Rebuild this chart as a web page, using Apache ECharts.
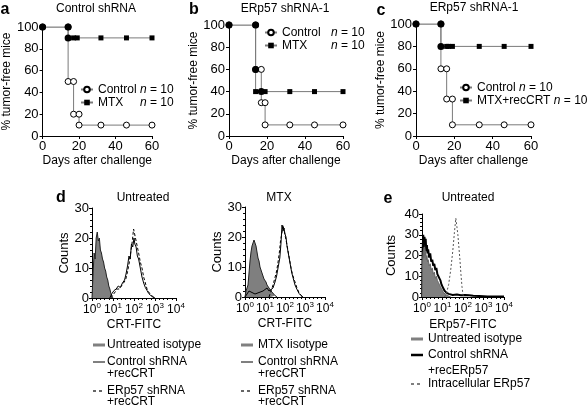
<!DOCTYPE html>
<html><head><meta charset="utf-8">
<script src="https://cdn.jsdelivr.net/npm/echarts@6/dist/echarts.min.js"></script>
<style>html,body{margin:0;padding:0;background:#fff}#c{width:588px;height:410px}</style>
</head><body><div id="c"></div>
<script>
const FONT = 'Liberation Sans, Arial, Helvetica, sans-serif';

// ---- Panel a: Control shRNA (day, % tumor-free) ----
const aControl = [[0,100],[14,100],[14,50],[17,50],[17,20],[20,20],[20,10],[32,10],[46,10],[60,10]];
const aMTX     = [[0,100],[14,100],[14,90],[17,90],[19,90],[32,90],[46,90],[60,90]];
const aMTXMarks = ['circle','circle','circle','rect','rect','rect','rect','rect'];
// ---- Panel b: ERp57 shRNA-1 ----
const bControl = [[0,100],[14,100],[14,60],[17,60],[17,30],[19,30],[19,10],[32,10],[45,10],[60,10]];
const bMTX     = [[0,100],[14,100],[14,60],[14,40],[17,40],[19,40],[32,40],[45,40],[60,40]];
const bMTXMarks = ['circle','circle','circle','rect','circle','rect','rect','rect','rect'];
// ---- Panel c: ERp57 shRNA-1 ----
const cControl = [[0,100],[13,100],[13,60],[16,60],[16,33],[19,33],[19,10],[33,10],[46,10],[60,10]];
const cMTXrec  = [[0,100],[13,100],[13,80],[16,80],[17,80],[19,80],[33,80],[46,80],[60,80]];
const cMTXMarks = ['circle','circle','circle','rect','rect','rect','rect','rect','rect'];

// ---- Histograms: [log10 fluorescence, counts] ----
const dUntIso = [[0,0],[0.05,8],[0.1,15],[0.15,13],[0.2,20],[0.25,22],[0.3,19],[0.35,20],[0.4,16],[0.45,15],[0.5,13],[0.55,12],[0.6,10],[0.65,9],[0.7,7],[0.75,6],[0.8,4],[0.85,3],[0.9,1.5],[0.95,0.5],[1.0,0]];
const dUntCtrl = [[0.85,0],[0.95,1.5],[1.05,2.5],[1.15,3],[1.25,4],[1.35,3.5],[1.45,5],[1.55,6],[1.62,8],[1.7,11],[1.76,14],[1.82,13],[1.88,18],[1.94,17],[2.0,20],[2.04,18],[2.1,17],[2.16,14],[2.22,13],[2.3,10],[2.38,7],[2.46,5],[2.54,3.5],[2.62,2.5],[2.7,1.5],[2.8,0.8],[2.9,0.3],[3.0,0]];
const dUntERp = [[0.9,0],[1.0,1],[1.1,2],[1.2,3],[1.3,3],[1.4,4],[1.5,5],[1.6,6],[1.7,9],[1.78,12],[1.86,16],[1.92,19],[1.98,23],[2.04,21],[2.1,19],[2.16,17],[2.22,15],[2.3,12],[2.38,10],[2.46,7],[2.54,5],[2.62,3],[2.7,2],[2.8,1],[2.9,0.5],[3.0,0]];
const dMtxIso = [[0,0],[0.05,2],[0.1,3],[0.15,4],[0.2,8],[0.25,12],[0.3,15],[0.35,17],[0.4,18],[0.45,19],[0.5,18],[0.55,17],[0.6,15],[0.65,13],[0.7,12],[0.75,10],[0.8,9],[0.85,8],[0.9,7],[0.95,6],[1.0,6],[1.05,5],[1.1,4],[1.15,4],[1.2,3],[1.3,2],[1.4,1.5],[1.5,0.5],[1.6,0]];
const dMtxCtrl = [[0,0],[0.1,1],[0.2,2],[0.3,1.5],[0.5,1],[0.7,1.5],[0.9,2],[1.0,2.5],[1.1,3],[1.2,2],[1.3,2.5],[1.4,3],[1.5,5],[1.58,7],[1.66,10],[1.74,13],[1.8,18],[1.85,24],[1.9,22],[1.95,23],[2.0,21],[2.05,20],[2.1,17],[2.18,14],[2.26,11],[2.34,8],[2.42,6],[2.5,4],[2.6,2.5],[2.7,1.2],[2.8,0.5],[2.9,0]];
const dMtxERp = [[1.2,0],[1.3,2],[1.4,4],[1.48,6],[1.56,8],[1.64,11],[1.72,15],[1.78,19],[1.84,21],[1.9,24],[1.96,22],[2.02,20],[2.08,18],[2.16,15],[2.24,12],[2.32,9],[2.4,7],[2.5,5],[2.6,3],[2.7,1.5],[2.8,0.5],[2.9,0]];
const eIso = [[0,0],[0.03,18],[0.06,22],[0.09,19],[0.12,24],[0.15,20],[0.18,22],[0.21,18],[0.24,20],[0.27,17],[0.3,18],[0.35,15],[0.4,16],[0.45,13],[0.5,14],[0.55,11],[0.6,12],[0.65,9],[0.7,10],[0.75,8],[0.8,7],[0.85,6],[0.9,5],[0.95,4],[1.0,3],[1.05,2],[1.1,1.5],[1.2,1],[1.3,0.5],[1.4,0]];
const eCtrl = [[0,0],[0.03,22],[0.06,30],[0.09,24],[0.12,29],[0.15,26],[0.18,28],[0.21,22],[0.24,25],[0.27,21],[0.3,23],[0.35,19],[0.4,21],[0.45,17],[0.5,18],[0.55,15],[0.6,16],[0.65,13],[0.7,14],[0.75,11],[0.8,10],[0.85,9],[0.9,8],[0.95,6],[1.0,5],[1.05,4],[1.1,3],[1.15,2.5],[1.2,2],[1.3,1.5],[1.5,1],[1.7,1.2],[1.9,0.8],[2.1,1],[2.3,0.8],[2.5,0.6],[2.8,0.5],[3.2,0.3],[3.6,0.2],[4.0,0.2]];
const eIntra = [[1.1,0],[1.2,2],[1.3,6],[1.4,13],[1.5,22],[1.58,31],[1.65,38],[1.7,34],[1.75,30],[1.8,24],[1.85,18],[1.9,11],[1.95,5],[2.0,1],[2.05,0]];

const txt = {color:'#000', fontFamily: FONT};

function kmX(gi){
  return {type:'value', gridIndex:gi, min:0, max:60, interval:20,
    name:'Days after challenge', nameLocation:'middle', nameGap:19,
    nameTextStyle:Object.assign({fontSize:12}, txt),
    axisLine:{show:true, onZero:false, lineStyle:{color:'#000', width:1}},
    axisTick:{show:true, length:3, lineStyle:{color:'#000'}},
    axisLabel:Object.assign({fontSize:13, margin:4}, txt),
    splitLine:{show:false}};
}
function kmY(gi){
  return {type:'value', gridIndex:gi, min:0, max:100, interval:20,
    name:'% tumor-free mice', nameLocation:'middle', nameGap:24,
    nameTextStyle:Object.assign({fontSize:12}, txt),
    axisLine:{show:true, onZero:false, lineStyle:{color:'#000', width:1}},
    axisTick:{show:true, length:3, lineStyle:{color:'#000'}},
    axisLabel:Object.assign({fontSize:13, margin:4}, txt),
    splitLine:{show:false}};
}
function hX(gi, name, gap){
  return {type:'value', gridIndex:gi, min:0, max:4, interval:1,
    name:name, nameLocation:'middle', nameGap:gap,
    nameTextStyle:Object.assign({fontSize:12}, txt),
    axisLine:{show:true, onZero:false, lineStyle:{color:'#000', width:1}},
    axisTick:{show:true, length:3, lineStyle:{color:'#000'}},
    minorTick:{show:true, splitNumber:5, length:2, lineStyle:{color:'#000'}},
    axisLabel:{margin:4, interval:0, showMinLabel:true, showMaxLabel:true, hideOverlap:false,
      formatter: v => '{b|10}{s|' + v + '}',
      rich:{b:Object.assign({fontSize:12, lineHeight:14, verticalAlign:'bottom'}, txt),
            s:Object.assign({fontSize:8, lineHeight:14, verticalAlign:'top'}, txt)}},
    splitLine:{show:false}};
}
function hY(gi, max, gap){
  return {type:'value', gridIndex:gi, min:0, max:max, interval:10,
    name:'Counts', nameLocation:'middle', nameGap:gap,
    nameTextStyle:Object.assign({fontSize:13}, txt),
    axisLine:{show:true, onZero:false, lineStyle:{color:'#000', width:1}},
    axisTick:{show:true, length:3, lineStyle:{color:'#000'}},
    minorTick:{show:true, splitNumber:5, length:2, lineStyle:{color:'#000'}},
    axisLabel:Object.assign({fontSize:13, margin:3}, txt),
    splitLine:{show:false}};
}

function ctrlSeries(name, data, gi){
  return {name, type:'line', xAxisIndex:gi, yAxisIndex:gi, data, z:2,
    symbol:'circle', symbolSize:6, showAllSymbol:true, animation:false,
    itemStyle:{color:'#fff', borderColor:'#000', borderWidth:1},
    lineStyle:{color:'#7a7a7a', width:1}};
}
function mtxSeries(name, data, marks, gi){
  return {name, type:'line', xAxisIndex:gi, yAxisIndex:gi, z:3,
    data: data.map((p,i) => ({value:p, symbol:marks[i], symbolSize: marks[i]==='circle' ? 7 : 5})),
    symbol:'rect', symbolSize:5, showAllSymbol:true, animation:false,
    itemStyle:{color:'#000', borderColor:'#000', borderWidth:0},
    lineStyle:{color:'#7a7a7a', width:1}};
}
function hSeries(name, data, gi, opts){
  return Object.assign({name, type:'line', xAxisIndex:gi, yAxisIndex:gi, data,
    showSymbol:false, symbol:'none', animation:false}, opts);
}

const grids = [
  {left:39, top:27, width:113, height:109},
  {left:229, top:25, width:114, height:111},
  {left:416, top:24, width:115, height:112},
  {left:92, top:208, width:84, height:90},
  {left:245, top:207, width:80, height:90},
  {left:422, top:214, width:82, height:83}
];

function kmLegend(names, left, top, fmt, tWidth){
  const rich = {t:Object.assign({fontSize:12}, txt), i:Object.assign({fontSize:12, fontStyle:'italic'}, txt),
                n:Object.assign({fontSize:12}, txt)};
  if (tWidth) rich.t.width = tWidth;
  return {data:names, left, top, orient:'vertical', itemWidth:12, itemHeight:7, itemGap:0,
    selectedMode:false, padding:0,
    textStyle:Object.assign({fontSize:12, lineHeight:13, rich}, txt),
    formatter: fmt};
}

const gEls = [];
function legLine(x, y, style){ gEls.push({type:'line', shape:{x1:x, y1:y, x2:x+12, y2:y}, style}); }
function textEl(x, y, s, font, align){
  gEls.push({type:'text', x, y, style:{text:s, font:font, fill:'#000',
    align:align, verticalAlign:'middle', textAlign:align, textVerticalAlign:'middle'}});
}
function legText(x, y, s){ textEl(x, y, s, '12px '+FONT, 'left'); }
function label(x, y, s, font){ textEl(x, y, s, font, 'center'); }

// panel letters & titles
label(5, 10, 'a', 'bold 16px '+FONT);
label(194, 10, 'b', 'bold 16px '+FONT);
label(381, 11, 'c', 'bold 16px '+FONT);
label(61, 198, 'd', 'bold 16px '+FONT);
label(388, 199, 'e', 'bold 16px '+FONT);
label(96, 9, 'Control shRNA', '12px '+FONT);
label(285, 9, 'ERp57 shRNA-1', '12px '+FONT);
label(474, 8, 'ERp57 shRNA-1', '12px '+FONT);
label(143, 198, 'Untreated', '12px '+FONT);
label(279, 198, 'MTX', '12px '+FONT);
label(468, 198, 'Untreated', '12px '+FONT);

// d untreated legend
const thickGray = {stroke:'#808080', lineWidth:3};
const solidBlk = {stroke:'#000', lineWidth:1};
const dashBlk = {stroke:'#000', lineWidth:1.2, lineDash:[3,3]};
legLine(93, 345, thickGray); legText(107, 345, 'Untreated isotype');
legLine(93, 362, solidBlk); legText(107, 362, 'Control shRNA'); legText(107, 374, '+recCRT');
legLine(93, 391, dashBlk); legText(107, 391, 'ERp57 shRNA'); legText(107, 402, '+recCRT');
// d MTX legend
legLine(241, 345, thickGray); legText(258, 345, 'MTX Iisotype');
legLine(241, 362, solidBlk); legText(258, 362, 'Control shRNA'); legText(258, 374, '+recCRT');
legLine(241, 391, dashBlk); legText(258, 391, 'ERp57 shRNA'); legText(258, 402, '+recCRT');
// e legend
legLine(411, 339, thickGray); legText(428, 339, 'Untreated isotype');
legLine(411, 355, {stroke:'#000', lineWidth:2.5}); legText(428, 355, 'Control shRNA'); legText(428, 371, '+recERp57');
legLine(411, 384, {stroke:'#000', lineWidth:1, lineDash:[3,3]}); legText(428, 384, 'Intracellular ERp57');

const option = {
  backgroundColor:'#fff',
  animation:false,
  textStyle:{fontFamily:FONT},
  grid: grids,
  xAxis:[kmX(0), kmX(1), kmX(2), hX(3,'CRT-FITC',21), hX(4,'CRT-FITC',21), hX(5,'ERp57-FITC',22)],
  yAxis:[kmY(0), kmY(1), kmY(2), hY(3,30,20), hY(4,30,21), hY(5,40,24)],
  legend:[
    kmLegend(['Control','MTX'], 80, 83, n => '{t|' + n + '}{i|n} = 10', 42),
    kmLegend(['Control','MTX'], 264, 26, n => '{t|' + n + '}{i|n} = 10', 49),
    kmLegend(['Control','MTX+recCRT'], 459, 81, n => '{n|' + n + '} {i|n} = 10')
  ],
  series:[
    ctrlSeries('Control', aControl, 0), mtxSeries('MTX', aMTX, aMTXMarks, 0),
    ctrlSeries('Control', bControl, 1), mtxSeries('MTX', bMTX, bMTXMarks, 1),
    ctrlSeries('Control', cControl, 2), mtxSeries('MTX+recCRT', cMTXrec, cMTXMarks, 2),
    hSeries('Untreated isotype', dUntIso, 3, {lineStyle:{color:'#222', width:1}, areaStyle:{color:'#7f7f7f', opacity:1}, z:1}),
    hSeries('Control shRNA +recCRT', dUntCtrl, 3, {lineStyle:{color:'#000', width:1}, z:3}),
    hSeries('ERp57 shRNA +recCRT', dUntERp, 3, {lineStyle:{color:'#000', width:1, type:[3,2]}, z:2}),
    hSeries('MTX isotype', dMtxIso, 4, {lineStyle:{color:'#222', width:1}, areaStyle:{color:'#7f7f7f', opacity:1}, z:1}),
    hSeries('Control shRNA +recCRT (MTX)', dMtxCtrl, 4, {lineStyle:{color:'#000', width:1}, z:3}),
    hSeries('ERp57 shRNA +recCRT (MTX)', dMtxERp, 4, {lineStyle:{color:'#000', width:1, type:[3,2]}, z:2}),
    hSeries('Untreated isotype (e)', eIso, 5, {lineStyle:{color:'#666', width:1}, areaStyle:{color:'#7f7f7f', opacity:1}, z:2}),
    hSeries('Control shRNA +recERp57', eCtrl, 5, {lineStyle:{color:'#000', width:2}, z:1}),
    hSeries('Intracellular ERp57', eIntra, 5, {lineStyle:{color:'#555', width:1, type:[2,2]}, z:3})
  ],
  graphic: gEls
};

const chart = echarts.init(document.getElementById('c'), null, {renderer:'canvas'});
chart.setOption(option);
</script></body></html>
